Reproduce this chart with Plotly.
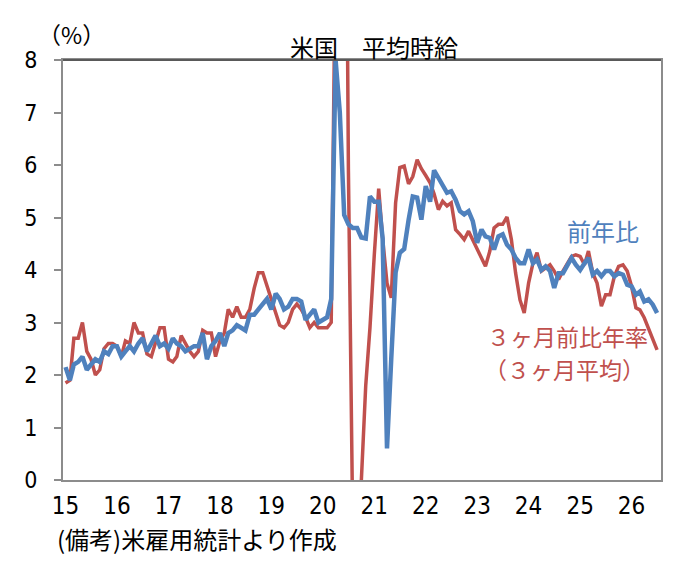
import pandas as pd
import plotly.graph_objects as go

# monthly, Jan 2015 onward
yoy = [2.15, 1.9, 2.2, 2.25, 2.35, 2.1, 2.2, 2.3, 2.25, 2.45,
       2.4, 2.55, 2.55, 2.35, 2.45, 2.55, 2.45, 2.6, 2.7, 2.45,
       2.6, 2.75, 2.55, 2.6, 2.5, 2.7, 2.6, 2.55, 2.45, 2.5,
       2.55, 2.55, 2.8, 2.3, 2.55, 2.65, 2.8, 2.55, 2.8, 2.85,
       2.95, 2.9, 2.85, 3.15, 3.15, 3.25, 3.35, 3.45, 3.25, 3.55,
       3.45, 3.25, 3.3, 3.45, 3.45, 3.4, 3.05, 3.15, 3.25, 3.0,
       3.05, 3.1, 3.45, 8.0, 7.0, 5.05, 4.87, 4.8, 4.8, 4.62,
       4.6, 5.4, 5.3, 5.3, 4.6, 0.6, 2.3, 3.95, 4.33, 4.4,
       4.95, 5.4, 5.38, 4.96, 5.6, 5.3, 5.9, 5.76, 5.6, 5.47,
       5.5, 5.34, 5.12, 5.06, 5.12, 4.93, 4.52, 4.77, 4.64, 4.61,
       4.39, 4.64, 4.68, 4.48, 4.39, 4.23, 4.13, 4.13, 4.39, 4.13,
       4.2, 4.0, 4.07, 3.98, 3.66, 3.94, 3.94, 4.07, 4.23, 4.1,
       4.0, 4.13, 4.23, 3.91, 3.98, 3.88, 3.98, 3.98, 3.88, 3.94,
       3.91, 3.72, 3.69, 3.53, 3.59, 3.4, 3.44, 3.34, 3.18]

ann3m = [1.85, 1.9, 2.7, 2.7, 3.0, 2.45, 2.3, 2.0, 2.1, 2.5,
         2.6, 2.6, 2.55, 2.35, 2.65, 2.6, 3.0, 2.8, 2.8, 2.4,
         2.35, 2.6, 2.9, 2.9, 2.3, 2.25, 2.35, 2.75, 2.6, 2.45,
         2.35, 2.45, 2.85, 2.8, 2.8, 2.35, 2.65, 2.8, 3.25, 3.1,
         3.3, 3.1, 3.1, 3.25, 3.65, 3.95, 3.95, 3.7, 3.4, 3.15,
         2.95, 2.9, 3.0, 3.25, 3.35, 3.25, 3.1, 2.9, 3.0, 2.9,
         2.9, 2.9, 3.0, 10.3, 15.2, 17.4, 5.9, -0.9, -3.7, 0.0,
         1.8, 2.9, 4.3, 5.55, 4.6, 3.75, 3.47, 5.28, 5.95, 5.98,
         5.64, 5.78, 6.1, 5.93, 5.8, 5.66, 5.45, 5.15, 5.31, 5.22,
         5.28, 4.77, 4.68, 4.58, 4.74, 4.58, 4.39, 4.23, 4.07, 4.36,
         4.8, 4.87, 4.87, 5.01, 4.58, 3.94, 3.43, 3.18, 3.75, 4.13,
         4.33, 3.98, 4.04, 4.1, 3.98, 3.82, 3.98, 4.13, 4.26, 4.29,
         4.26, 4.1, 4.36, 3.94, 3.75, 3.31, 3.53, 3.53, 3.88, 4.07,
         4.1, 3.98, 3.69, 3.28, 3.24, 3.09, 2.89, 2.67, 2.48]

years = list(range(2015, 2027))
year_labels = [str(y)[2:] for y in years]

dates = pd.date_range("2015-01-01", periods=len(yoy), freq="MS")

BLUE = "#4F81BD"
RED = "#C0504D"
NUM_FONT = "Liberation Sans Narrow, DejaVu Sans Condensed, Noto Sans CJK JP"
JP_FONT = "Noto Sans CJK JP"

fig = go.Figure()
fig.add_trace(go.Scatter(x=dates, y=ann3m, mode="lines",
                         line=dict(color=RED, width=3.5), name="3m"))
fig.add_trace(go.Scatter(x=dates, y=yoy, mode="lines",
                         line=dict(color=BLUE, width=4.5), name="yoy"))

# page body has an 8px margin, so margins are trimmed by 8 on top/left
fig.update_layout(
    width=699, height=572,
    margin=dict(l=55, r=46, t=52, b=100),
    paper_bgcolor="white", plot_bgcolor="white",
    showlegend=False,
    font=dict(family=NUM_FONT, size=20, color="black"),
)

fig.update_xaxes(
    range=["2014-12-14", "2026-07-29"],
    tickvals=[pd.Timestamp(f"{y}-01-01") for y in years],
    ticktext=year_labels,
    showgrid=False, zeroline=False,
    showline=True, linecolor="#8C8C8C", linewidth=2, mirror=True,
    ticks="outside", ticklen=3, tickcolor="rgba(0,0,0,0)",
    tickfont=dict(family=NUM_FONT, size=24),
)
fig.update_yaxes(
    range=[0, 8], tickvals=list(range(0, 9)),
    showgrid=False, zeroline=False,
    showline=True, linecolor="#8C8C8C", linewidth=2, mirror=True,
    ticks="outside", ticklen=7, tickcolor="#8C8C8C", tickwidth=2,
    ticklabelstandoff=12,
    tickfont=dict(family=NUM_FONT, size=23),
)

# darker top border
fig.add_shape(type="line", xref="paper", yref="paper", x0=0, x1=1, y0=1, y1=1,
              line=dict(color="#595959", width=2))

def label(text, x, y, size, color="black", xanchor="center"):
    fig.add_annotation(text=text, xref="paper", yref="paper", x=x, y=y,
                       xanchor=xanchor, yanchor="middle", showarrow=False,
                       font=dict(family=JP_FONT, size=size, color=color))

label("米国　平均時給", 0.52, 1.031, 24)
label("（%）", 0.015, 1.062, 23)
label("前年比", 0.903, 0.595, 24, BLUE)
label("３ヶ月前比年率", 0.844, 0.343, 23, RED)
label("（３ヶ月平均）", 0.838, 0.265, 23, RED)
label("(備考)米雇用統計より作成", -0.013, -0.14, 24, xanchor="left")

fig.write_html("out.html")
